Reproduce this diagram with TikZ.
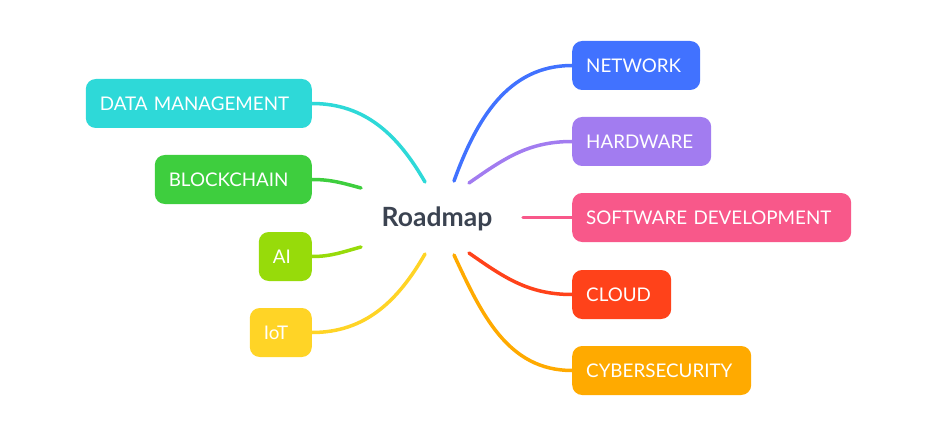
\documentclass[tikz,border=0pt]{standalone}
\usepackage{fontspec}
\setmainfont{Lato}
\usepackage{xcolor}
\usetikzlibrary{calc,positioning}

\definecolor{dmcol}{RGB}{46,217,216}
\definecolor{bccol}{RGB}{62,206,62}
\definecolor{aicol}{RGB}{151,219,10}
\definecolor{iotcol}{RGB}{255,212,38}
\definecolor{netcol}{RGB}{65,114,255}
\definecolor{hwcol}{RGB}{162,124,240}
\definecolor{swcol}{RGB}{248,88,138}
\definecolor{clcol}{RGB}{255,66,26}
\definecolor{cycol}{RGB}{255,170,0}
\definecolor{rootcol}{RGB}{59,67,81}

\tikzset{
    topic/.style={fill=#1, text=white, rounded corners=10pt, minimum height=49pt,
        inner xsep=14pt, inner ysep=0pt, align=left, font=\fontsize{18.8}{22}\selectfont},
    link/.style={draw=#1, line width=3.5pt, line cap=round}
}

\begin{document}
\begin{tikzpicture}[x=1pt, y=1pt]
                    \useasboundingbox (0, 0) rectangle (934, 421);

                    \node[font=\fontsize{26.5}{30}\selectfont\bfseries, text=rootcol] (root) at (437, 202) {Roadmap};

                    \node[topic=dmcol, text width=198pt, anchor=east] (dm) at (312, 317.5) {DATA MANAGEMENT};
                    \node[topic=bccol, text width=129pt, anchor=east] (bc) at (312, 241.5) {BLOCKCHAIN};
                    \node[topic=aicol, text width=25pt, anchor=east] (ai) at (312, 164.5) {AI};
                    \node[topic=iotcol, text width=34pt, anchor=east] (iot) at (312, 88.5) {IoT};

                    \node[topic=netcol, text width=100pt, anchor=west] (net) at (572, 355.5) {NETWORK};
                    \node[topic=hwcol, text width=111pt, anchor=west] (hw) at (572, 279.5) {HARDWARE};
                    \node[topic=swcol, text width=251pt, anchor=west] (sw) at (572, 203.5) {SOFTWARE DEVELOPMENT};
                    \node[topic=clcol, text width=71pt, anchor=west] (cl) at (572, 126.5) {CLOUD};
                    \node[topic=cycol, text width=151pt, anchor=west] (cy) at (572, 50.5) {CYBERSECURITY};

                    \draw[link=dmcol] (dm.east) to[out=0, in=120] ($(root) + (-12, 37)$);
                    \draw[link=bccol] (bc.east) to[out=0, in=165] ($(root) + (-76, 31)$);
                    \draw[link=aicol] (ai.east) to[out=0, in=195] ($(root) + (-76, -28)$);
                    \draw[link=iotcol] (iot.east) to[out=0, in=240] ($(root) + (-12, -35)$);

                    \draw[link=netcol] (net.west) to[out=180, in=70] ($(root) + (17, 38)$);
                    \draw[link=hwcol] (hw.west) to[out=180, in=35] ($(root) + (32, 36)$);
                    \draw[link=swcol] (sw.west) -- ($(root) + (86, 1.5)$);
                    \draw[link=clcol] (cl.west) to[out=180, in=-35] ($(root) + (32, -34)$);
                    \draw[link=cycol] (cy.west) to[out=180, in=-65] ($(root) + (17, -36)$);
                \end{tikzpicture}
\end{document}
